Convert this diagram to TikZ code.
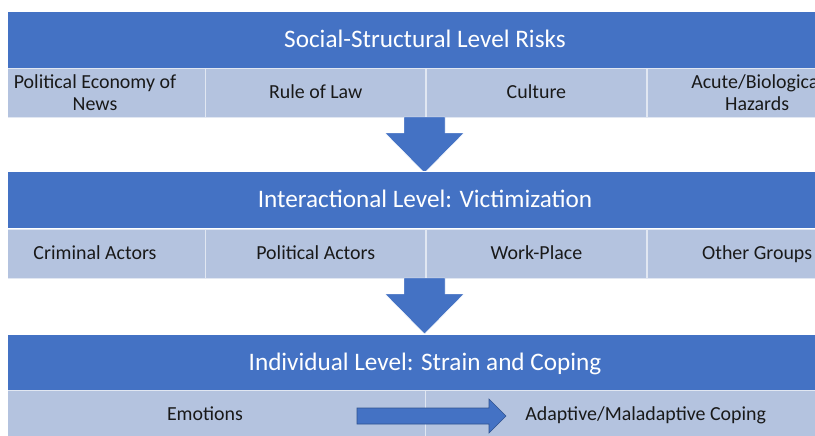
\documentclass[tikz,border=0pt]{standalone}
\usepackage{fontspec}
\setmainfont{Carlito}
\usetikzlibrary{positioning}

\definecolor{bandblue}{HTML}{4472C4}
\definecolor{rowblue}{HTML}{B4C3DF}
\definecolor{arrowedge}{HTML}{2F528F}

\tikzset{
    band/.style={rectangle, fill=bandblue, draw=white, line width=0.5pt,
        minimum width=26.4cm, minimum height=1.71cm, inner sep=0pt,
        text=white, text height=16pt, text depth=2.4pt,
        font=\fontsize{21.5}{25}\selectfont},
    cell/.style={rectangle, fill=rowblue, draw=white!60!rowblue, line width=0.6pt,
        minimum width=6.6cm, minimum height=1.47cm, inner sep=0pt, align=center,
        text=black!90, text height=13pt, text depth=2.2pt,
        font=\fontsize{17}{19}\selectfont},
    twoline/.style={text height=, text depth=},
    widecell/.style={cell, minimum width=13.2cm},
    downarrow/.style={fill=bandblue, draw=white, line width=0.4pt},
}

\begin{document}
\begin{tikzpicture}[x=0.03cm, y=-0.03cm]
    \useasboundingbox (0, 0) rectangle (815, 435);
    \clip (8, 0) rectangle (815, 435);

    \node[band] (social) at (425, 39.5) {Social-Structural Level Risks};
    \node[cell, twoline] (news) at (95, 92.5) {Political Economy of\\News};
    \node[cell, right=0pt of news] (law) {Rule of Law};
    \node[cell, right=0pt of law] (culture) {Culture};
    \node[cell, twoline, right=0pt of culture] (hazards) {Acute/Biological\\Hazards};

    \fill[downarrow] (404, 117) -- (445, 117) -- (445, 133) -- (464, 133)
        -- (424.5, 173) -- (385, 133) -- (404, 133) -- cycle;

    \node[band] (inter) at (425, 200) {Interactional Level: Victimization};
    \node[cell] (crim) at (95, 253.5) {Criminal Actors};
    \node[cell, right=0pt of crim] (pol) {Political Actors};
    \node[cell, right=0pt of pol] (work) {Work-Place};
    \node[cell, right=0pt of work] (other) {Other Groups};

    \fill[downarrow] (404, 278) -- (445, 278) -- (445, 294) -- (464, 294)
        -- (424.5, 334) -- (385, 294) -- (404, 294) -- cycle;

    \node[band] (indiv) at (425, 362.5) {Individual Level: Strain and Coping};
    \node[widecell] (emo) at (205, 414.5) {Emotions};
    \node[widecell, right=0pt of emo] (coping) {Adaptive/Maladaptive Coping};

    \filldraw[fill=bandblue, draw=arrowedge, line width=0.5pt]
        (357, 408) -- (489, 408) -- (489, 399) -- (506, 416)
        -- (489, 433) -- (489, 424) -- (357, 424) -- cycle;
\end{tikzpicture}
\end{document}
